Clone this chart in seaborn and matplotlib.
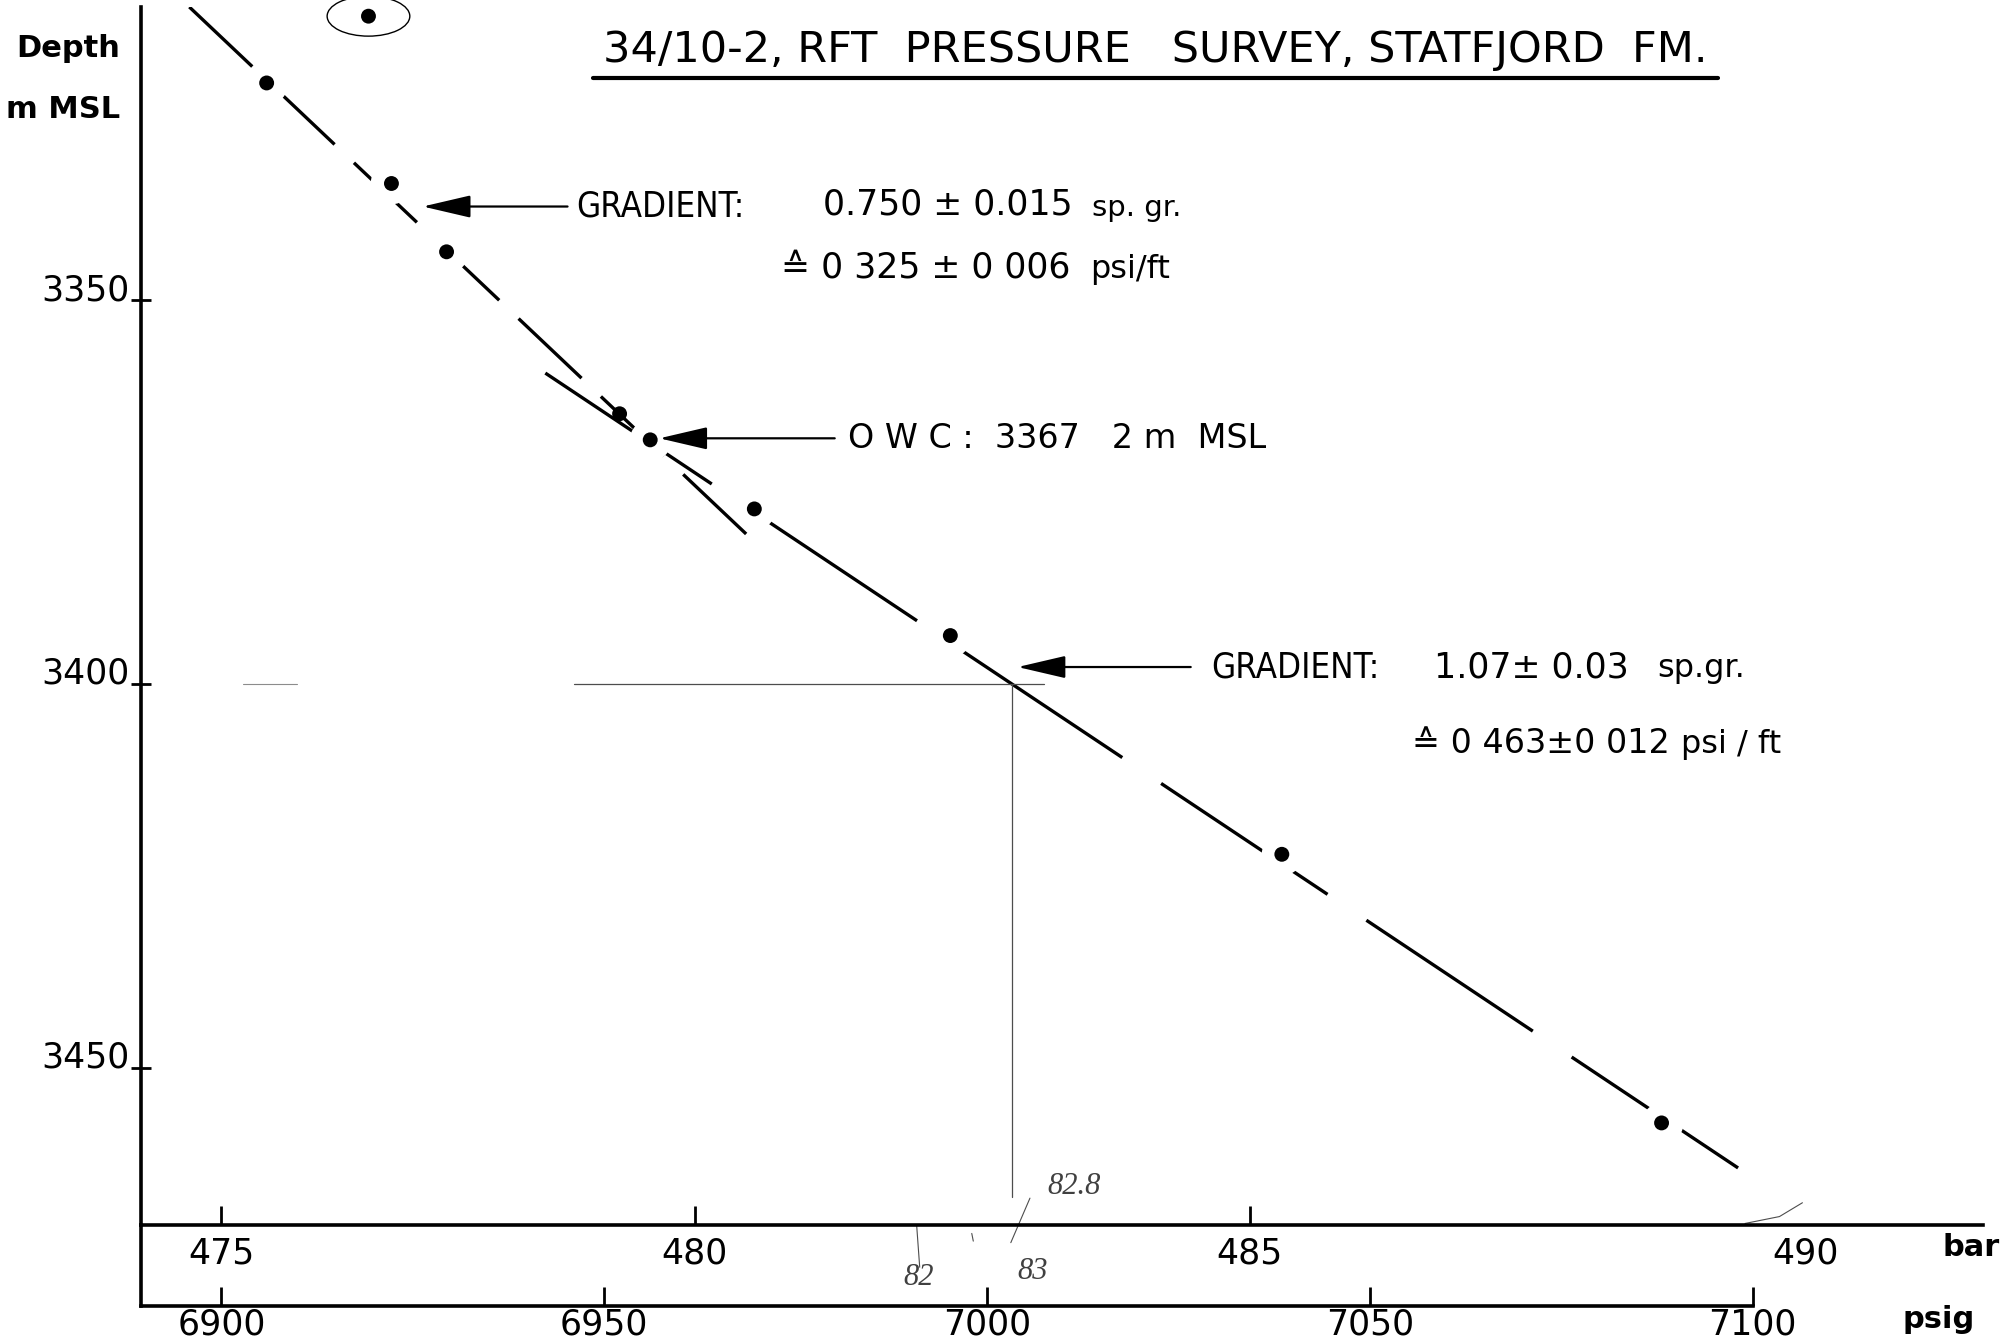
import numpy as np
import pandas as pd
import seaborn as sns
import matplotlib.pyplot as plt
from matplotlib.patches import Ellipse

# RFT pressure points (pressure in psig, depth in m MSL)
pressure_psig = [6919.2, 6905.9, 6922.2, 6929.4, 6952.0, 6956.0, 6969.6, 6995.2, 7038.5, 7088.1]
depth_m = [3313.0, 3321.7, 3334.8, 3343.7, 3364.8, 3368.2, 3377.2, 3393.7, 3422.2, 3457.2]

# fitted gradient lines (oil above OWC, water below)
oil_psig = [6895.8, 6969.1]
oil_depth = [3311.8, 3381.0]
water_psig = [6942.3, 7099.2]
water_depth = [3359.5, 3463.8]

# pressure read at 3400 m
ref_depth = 3400
ref_psig = 7003.3

depth_ticks = [3350, 3400, 3450]
psig_ticks = [6900, 6950, 7000, 7050, 7100]
bar_ticks = [475, 480, 485, 490]
bar_tick_psig = [6900, 6961.8, 7034.3, 7106.9]  # where the bar marks sit on the psig scale

df = pd.DataFrame({"psig": pressure_psig, "depth": depth_m})
oil = pd.DataFrame({"psig": oil_psig, "depth": oil_depth})
water = pd.DataFrame({"psig": water_psig, "depth": water_depth})

sns.set_theme(style="white")
plt.rcParams["font.family"] = ["DejaVu Sans"]
plt.rcParams["text.color"] = "black"
plt.rcParams["xtick.labelcolor"] = "black"
plt.rcParams["ytick.labelcolor"] = "black"

XMIN, XMAX = 6889.5, 7130.1
YTOP, YBOT = 3311.8, 3470.5

fig = plt.figure(figsize=(20.07, 13.41), dpi=100)
ax = fig.add_axes([0.0703, 0.0865, 0.9178, 0.9083])
axp = fig.add_axes([0.0703, 0.0261, 0.9178, 0.0604])

# gradient lines
sns.lineplot(data=oil, x="psig", y="depth", sort=False, color="black", lw=2.4, ax=ax)
ax.lines[-1].set_dashes((26, 8))
sns.lineplot(data=water, x="psig", y="depth", sort=False, color="black", lw=2.4, ax=ax)
ax.lines[-1].set_dashes((60, 14))

# white gaps where the line passes a measurement
cut = [False, True, True, True, False, True, True, True, True, True]
halo = df[cut]
ax.scatter(halo["psig"], halo["depth"], s=900, color="white", zorder=3, linewidths=0)

sns.scatterplot(data=df, x="psig", y="depth", color="black", s=115, edgecolor="none", ax=ax, zorder=4)

# rejected point circled by hand
ax.add_patch(Ellipse((pressure_psig[0], depth_m[0]), 10.8, 5.2, fill=False, lw=1.0,
                     color="black", clip_on=False))

# reading at 3400 m
ax.plot([6902.8, 6909.9], [ref_depth, ref_depth], color="0.55", lw=0.8)
ax.plot([6946.0, 7007.4], [ref_depth, ref_depth], color="0.3", lw=0.9)
ax.plot([ref_psig, ref_psig], [ref_depth, 3466.8], color="0.3", lw=0.9)

# arrows and notes
arrow = dict(arrowstyle="-|>,head_length=1.5,head_width=0.35", color="black", lw=1.6,
             mutation_scale=20, shrinkA=0, shrinkB=0)
ax.annotate("", xy=(6926.3, 3337.8), xytext=(6945.2, 3337.8), arrowprops=arrow, zorder=5)
ax.annotate("", xy=(6957.2, 3368.0), xytext=(6980.1, 3368.0), arrowprops=arrow, zorder=5)
ax.annotate("", xy=(7004.0, 3397.8), xytext=(7026.6, 3397.8), arrowprops=arrow, zorder=5)

tk = dict(va="center", ha="left", fontsize=25)
gr = dict(va="center", ha="left", fontsize=25, fontstretch="condensed")
ax.text(6946.3, 3337.8, "GRADIENT:", **gr)
ax.text(6978.6, 3337.6, "0.750 ± 0.015", **tk)
ax.text(7013.7, 3338.0, "sp. gr.", va="center", ha="left", fontsize=21)
ax.text(6973.1, 3345.7, "≙ 0 325 ± 0 006", **tk)
ax.text(7013.5, 3346.0, "psi/ft", va="center", ha="left", fontsize=23)

ax.text(6981.8, 3368.0, "O W C :  3367   2 m  MSL", va="center", ha="left", fontsize=24)

ax.text(7029.3, 3397.8, "GRADIENT:", **gr)
ax.text(7058.4, 3397.8, "1.07± 0.03", **tk)
ax.text(7087.6, 3398.0, "sp.gr.", va="center", ha="left", fontsize=23)
ax.text(7055.5, 3407.7, "≙ 0 463±0 012", va="center", ha="left", fontsize=24)
ax.text(7090.6, 3407.9, "psi / ft", va="center", ha="left", fontsize=23)

# title with underline
ax.text(7022.0, 3317.4, "34/10-2, RFT  PRESSURE   SURVEY, STATFJORD  FM.",
        ha="center", va="center", fontsize=31)
ax.plot([6948.5, 7095.5], [3321.0, 3321.0], color="black", lw=3, clip_on=False)

# pencil notes near the bar scale
hand = dict(fontsize=22, family="Liberation Serif", style="italic", color="0.25")
ax.text(7007.9, 3465.5, "82.8", ha="left", va="center", **hand)
ax.text(6991.0, 3477.3, "82", ha="center", va="center", clip_on=False, **hand)
ax.text(7006.0, 3476.6, "83", ha="center", va="center", clip_on=False, **hand)
ax.plot([6990.8, 6991.2], [YBOT, 3476.0], color="0.3", lw=0.8, clip_on=False)
ax.plot([7005.6, 7003.1], [3467.0, 3472.8], color="0.3", lw=0.8, clip_on=False)
ax.plot([6998.0, 6998.2], [3471.6, 3472.6], color="0.3", lw=0.8, clip_on=False)
ax.plot([7099.0, 7103.5, 7106.5], [3470.3, 3469.4, 3467.6], color="0.3", lw=0.8, clip_on=False)

# axes
ax.set_xlim(XMIN, XMAX)
ax.set_ylim(YBOT, YTOP)
ax.set_xlabel("")
ax.set_ylabel("")
for s in ["top", "right"]:
    ax.spines[s].set_visible(False)
for s in ["left", "bottom"]:
    ax.spines[s].set_linewidth(2.6)
    ax.spines[s].set_color("black")

ax.set_yticks(depth_ticks)
ax.set_yticklabels([str(d) for d in depth_ticks], fontsize=25)
ax.tick_params(axis="y", direction="inout", length=14, width=2, pad=1, left=True, color="black")
for lab in ax.get_yticklabels():
    lab.set_verticalalignment("baseline")

ax.set_xticks(bar_tick_psig)
ax.set_xticklabels([str(b) for b in bar_ticks], fontsize=25)
ax.tick_params(axis="x", direction="in", length=14, width=2, pad=8, bottom=True, color="black")
ax.xaxis.get_major_ticks()[3].tick1line.set_visible(False)

axp.set_xlim(XMIN, XMAX)
axp.set_ylim(0, 1)
axp.patch.set_alpha(0)
axp.set_yticks([])
for s in ["top", "right"]:
    axp.spines[s].set_visible(False)
for s in ["left", "bottom"]:
    axp.spines[s].set_linewidth(2.6)
    axp.spines[s].set_color("black")
axp.spines["bottom"].set_bounds(XMIN, 7100)
axp.set_xticks(psig_ticks)
axp.set_xticklabels([str(p) for p in psig_ticks], fontsize=25)
axp.tick_params(axis="x", direction="in", length=14, width=2, pad=1, bottom=True, color="black")

fig.text(0.0339, 0.9637, "Depth", ha="center", va="center", fontsize=22, fontweight="bold")
fig.text(0.0312, 0.918, "m MSL", ha="center", va="center", fontsize=22, fontweight="bold")
fig.text(0.982, 0.0694, "bar", ha="center", va="center", fontsize=22, fontweight="bold")
fig.text(0.966, 0.0157, "psig", ha="center", va="center", fontsize=22, fontweight="bold")

fig.savefig("out.png", dpi=100)
